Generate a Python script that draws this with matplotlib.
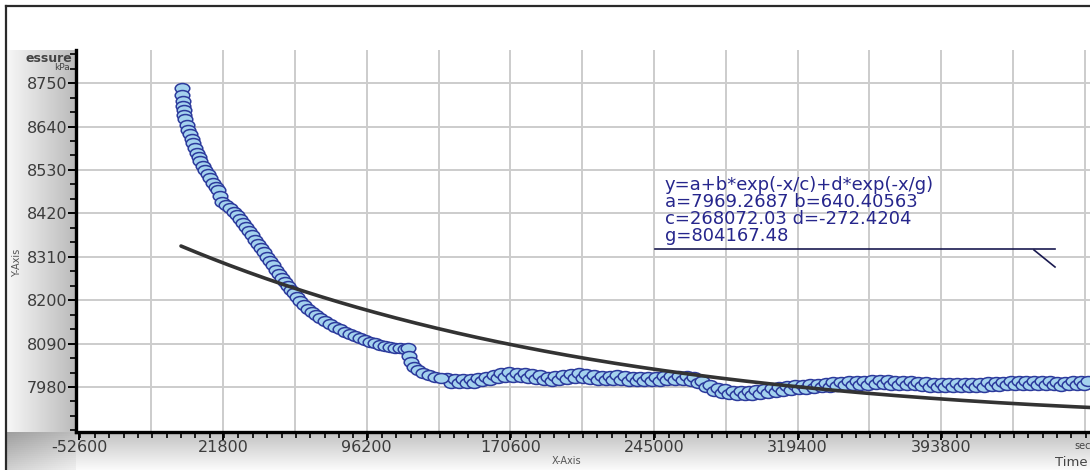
import numpy as np
import matplotlib.pyplot as plt
from matplotlib.path import Path
from matplotlib.patches import Rectangle
from matplotlib.ticker import FixedLocator, MultipleLocator, AutoMinorLocator

# measured pressure (kPa) vs time (s), read off the chart
# early decline and the step down near 118000 s
time_s = [
    300, 600, 900, 1200, 1500, 1800, 2100, 3100, 3600, 4700, 5700, 6200,
    7300, 8300, 9300, 9800, 11400, 12400, 14000, 15000, 16600, 18100, 19200,
    20200, 21200, 23300, 25400, 27500, 29000, 30600, 32100, 33700, 35200,
    36800, 38300, 39900, 41400, 43000, 44600, 46100, 47700, 49200, 50800,
    52300, 53900, 55400, 57000, 58500, 60100, 61600, 63700, 65800, 67900,
    69900, 72000, 74600, 77200, 79800, 82400, 85000, 87500, 90100, 92700,
    95300, 97900, 100500, 103100, 105700, 108300, 110900, 113400, 116000,
    117600,
    118200, 119200, 120700, 122700, 125300, 128400, 131500, 134600,
]
pressure_kpa = [
    8738, 8720, 8705, 8692, 8682, 8670, 8659, 8644, 8631, 8621, 8609, 8599,
    8586, 8573, 8563, 8553, 8540, 8530, 8520, 8510, 8497, 8487, 8479,
    8464, 8449, 8441, 8434, 8424, 8416, 8406, 8396, 8386, 8375,
    8365, 8353, 8343, 8332, 8322, 8310, 8299, 8289, 8277, 8266,
    8256, 8246, 8236, 8226, 8218, 8208, 8198, 8188, 8178, 8170,
    8163, 8155, 8147, 8140, 8132, 8127, 8119, 8114, 8109, 8104,
    8099, 8094, 8092, 8086, 8084, 8081, 8079, 8079, 8076,
    8079,
    8059, 8043, 8031, 8023, 8015, 8010, 8005, 8003,
]

# late, nearly flat part (noisy band)
flat_time_s = [
    138000, 140000, 142000, 144000, 146000, 148000, 150000, 152000, 154000,
    156000, 158000, 160000, 162000, 164000, 166000, 168000, 170000, 172000,
    174000, 176000, 178000, 180000, 182000, 184000, 186000, 188000, 190000,
    192000, 194000, 196000, 198000, 200000, 202000, 204000, 206000, 208000,
    210000, 212000, 214000, 216000, 218000, 220000, 222000, 224000, 226000,
    228000, 230000, 232000, 234000, 236000, 238000, 240000, 242000, 244000,
    246000, 248000, 250000, 252000, 254000, 256000, 258000, 260000, 262000,
    264000, 266000, 268000, 270000, 272000, 274000, 276000, 278000, 280000,
    282000, 284000, 286000, 288000, 290000, 292000, 294000, 296000, 298000,
    300000, 302000, 304000, 306000, 308000, 310000, 312000, 314000, 316000,
    318000, 320000, 322000, 324000, 326000, 328000, 330000, 332000, 334000,
    336000, 338000, 340000, 342000, 344000, 346000, 348000, 350000, 352000,
    354000, 356000, 358000, 360000, 362000, 364000, 366000, 368000, 370000,
    372000, 374000, 376000, 378000, 380000, 382000, 384000, 386000, 388000,
    390000, 392000, 394000, 396000, 398000, 400000, 402000, 404000, 406000,
    408000, 410000, 412000, 414000, 416000, 418000, 420000, 422000, 424000,
    426000, 428000, 430000, 432000, 434000, 436000, 438000, 440000, 442000,
    444000, 446000, 448000, 450000, 452000, 454000, 456000, 458000, 460000,
    462000, 464000, 466000, 468000, 470000,
]
flat_pressure_kpa = [
    8003, 7991, 8000, 7990, 8000, 7990, 8000, 7991, 8003,
    7994, 8005, 7997, 8010, 8002, 8015, 8006, 8018, 8006,
    8015, 8005, 8015, 8004, 8013, 8001, 8010, 7997, 8005,
    7996, 8008, 7999, 8010, 8001, 8013, 8004, 8015, 8004,
    8013, 8001, 8010, 7999, 8008, 7998, 8008, 7999, 8010,
    7999, 8008, 7996, 8005, 7995, 8005, 7995, 8005, 7995,
    8005, 7996, 8008, 7998, 8008, 7998, 8008, 7998, 8008,
    7996, 8005, 7990, 7995, 7980, 7985, 7971, 7977, 7966,
    7975, 7962, 7970, 7960, 7970, 7960, 7970, 7961, 7972,
    7963, 7975, 7966, 7977, 7968, 7980, 7971, 7982, 7973,
    7985, 7975, 7985, 7976, 7988, 7978, 7988, 7979, 7990,
    7981, 7993, 7983, 7993, 7984, 7995, 7985, 7995, 7985,
    7995, 7986, 7998, 7988, 7998, 7988, 7998, 7986, 7995,
    7985, 7995, 7985, 7995, 7984, 7993, 7983, 7993, 7981,
    7990, 7980, 7990, 7980, 7990, 7980, 7990, 7980, 7990,
    7980, 7990, 7980, 7990, 7981, 7993, 7983, 7993, 7983,
    7993, 7984, 7995, 7985, 7995, 7985, 7995, 7985, 7995,
    7985, 7995, 7985, 7995, 7984, 7993, 7983, 7993, 7984,
    7995, 7985, 7995, 7985, 7995,
]

# fitted model parameters shown on the chart
fit_a = 7969.2687
fit_b = 640.40563
fit_c = 268072.03
fit_d = -272.4204
fit_g = 804167.48

x_label_ticks = [-52600, 21800, 96200, 170600, 245000, 319400, 393800]
x_grid = [-15400, 21800, 59000, 96200, 133400, 170600, 207800, 245000,
          282200, 319400, 356600, 393800, 431000, 468200]
y_ticks = [7980, 8090, 8200, 8310, 8420, 8530, 8640, 8750]

W, H = 1090, 470
fig = plt.figure(figsize=(W / 100, H / 100), dpi=100)

# background layer in pixel coordinates (frame + grey gradient panels)
bg = fig.add_axes([0, 0, 1, 1])
bg.set_xlim(0, W)
bg.set_ylim(H, 0)
bg.axis('off')
# left panel: light at the outer edge, darker next to the y axis
for i in range(70):
    g = 0.97 - 0.24 * (i / 69.0)
    bg.add_patch(Rectangle((6 + i, 50), 1.05, H - 50, facecolor=(g, g, g),
                           edgecolor='none', zorder=1))
# bottom panel: darker next to the x axis, lighter downwards
for j in range(38):
    g = 0.76 + 0.22 * (j / 37.0)
    bg.add_patch(Rectangle((76, 432 + j), W - 76, 1.05, facecolor=(g, g, g),
                           edgecolor='none', zorder=1))
# lower-left corner: darker towards the outer corner
for i in range(70):
    for j in range(0, 38, 2):
        g = 0.62 + 0.12 * (i / 69.0) + 0.2 * (j / 37.0)
        bg.add_patch(Rectangle((6 + i, 432 + j), 1.05, 2.05,
                               facecolor=(g, g, g), edgecolor='none', zorder=1))
bg.plot([6, 6], [6, H], color='#2a2a2a', lw=1.6, zorder=2)
bg.plot([6, W], [6, 6], color='#2a2a2a', lw=1.6, zorder=2)

bg.text(72, 58, 'essure', ha='right', va='center', fontsize=9,
        fontweight='bold', color='#444444', zorder=3)
bg.text(70, 68, 'kPa', ha='right', va='center', fontsize=6.5,
        color='#444444', zorder=3)
bg.text(17, 263, 'Y-Axis', ha='center', va='center', rotation=90,
        fontsize=7, color='#555555', zorder=3)
bg.text(567, 461, 'X-Axis', ha='center', va='center', fontsize=7,
        color='#555555', zorder=3)
bg.text(1055, 462, 'Time', ha='left', va='center', fontsize=9.5,
        color='#444444', zorder=3)
bg.text(1074, 446, 'sec', ha='left', va='center', fontsize=7,
        color='#444444', zorder=3)

# main plot area
ax = fig.add_axes([76 / W, 38 / H, (W - 76) / W, 382 / H])
ax.set_facecolor('white')
ax.set_xlim(-54400, 470900)
ax.set_ylim(7866, 8834)

for x in x_grid:
    ax.axvline(x, color='#cccccc', lw=1.4, zorder=1)
for y in y_ticks:
    ax.axhline(y, color='#cccccc', lw=1.4, zorder=1)

circ = Path.unit_circle()
ellipse = Path(circ.vertices * [1.0, 0.68], circ.codes)
marker_kw = dict(s=10.5 ** 2, marker=ellipse, facecolor='#a4d2ee',
                 edgecolor='#2c3a9c', linewidths=1.1, zorder=3)
ax.scatter(flat_time_s, flat_pressure_kpa, **marker_kw)
ax.scatter(time_s, pressure_kpa, **marker_kw)

t_fit = np.linspace(0, 472000, 400)
p_fit = fit_a + fit_b * np.exp(-t_fit / fit_c) + fit_d * np.exp(-t_fit / fit_g)
ax.plot(t_fit, p_fit, color='#333333', lw=2.6, zorder=4,
        solid_capstyle='round')

for side in ('top', 'right'):
    ax.spines[side].set_visible(False)
for side in ('left', 'bottom'):
    ax.spines[side].set_linewidth(2.4)
    ax.spines[side].set_color('black')

ax.xaxis.set_major_locator(FixedLocator(x_label_ticks))
ax.set_xticklabels([str(v) for v in x_label_ticks])
ax.xaxis.set_minor_locator(MultipleLocator(7440))
ax.yaxis.set_major_locator(FixedLocator(y_ticks))
ax.set_yticklabels([str(v) for v in y_ticks])
ax.yaxis.set_minor_locator(AutoMinorLocator(3))
ax.tick_params(axis='both', which='major', direction='out', length=5.5,
               width=1.4, labelsize=11.5, labelcolor='#3c3c3c', pad=0.5)
ax.tick_params(axis='both', which='minor', direction='out', length=4,
               width=1.2)

# fit annotation, on top of everything
ann = fig.add_axes([0, 0, 1, 1])
ann.set_xlim(0, W)
ann.set_ylim(H, 0)
ann.axis('off')
ann_lines = ['y=a+b*exp(-x/c)+d*exp(-x/g)',
             'a=7969.2687 b=640.40563',
             'c=268072.03 d=-272.4204',
             'g=804167.48']
for i, line in enumerate(ann_lines):
    ann.text(665, 185 + i * 17, line, ha='left', va='center', fontsize=13,
             color='#26268c')
ann.plot([655, 1055], [249, 249], color='#1a1a50', lw=1.2)
ann.plot([1034, 1055], [250, 267], color='#1a1a50', lw=1.2)

fig.savefig('out.png', dpi=100, facecolor='white')
